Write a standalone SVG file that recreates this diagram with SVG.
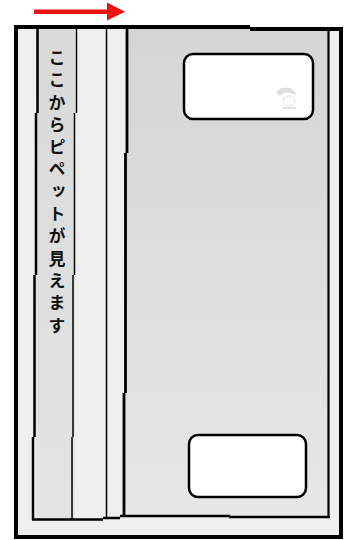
<svg xmlns="http://www.w3.org/2000/svg" width="352" height="540" viewBox="0 0 352 540">
  <defs>
    <linearGradient id="panelGrad" x1="0" y1="0" x2="0" y2="1">
      <stop offset="0" stop-color="#d5d5d5"/>
      <stop offset="1" stop-color="#e7e7e7"/>
    </linearGradient>
    <linearGradient id="stripGrad" x1="0" y1="0" x2="0" y2="1">
      <stop offset="0" stop-color="#d9d9d9"/>
      <stop offset="1" stop-color="#e4e4e4"/>
    </linearGradient>
    <style>
      .ln { stroke: #000; fill: none; stroke-linecap: butt; }
      .win { fill: #fff; stroke: #000; stroke-width: 2.5; }
      .jp { font-family: "Noto Sans CJK JP", "Noto Sans", sans-serif; font-size: 17px; font-weight: bold; fill: #111; writing-mode: vertical-rl; letter-spacing: 5.3px; }
    </style>
  </defs>
  <rect width="352" height="540" fill="#fff"/>

  <g id="arrow">
    <rect x="34" y="9.5" width="74" height="4.5" fill="#ee1111"/>
    <polygon points="107,2.5 125,11.7 107,20.5" fill="#ee1111"/>
  </g>

  <g id="frame">
    <rect x="16" y="27" width="325" height="510" fill="#efefef"/>
    <rect x="36" y="29" width="39" height="490" fill="url(#stripGrad)"/>
    <rect x="127" y="29" width="202" height="488" fill="url(#panelGrad)"/>
    <rect x="124" y="153" width="4" height="363" fill="url(#panelGrad)"/>
    <path class="ln" stroke-width="4" d="M16 25 V539 M14 27 H250 M250 29 H343 M341 29 V539 M14 537 H343"/>
    <path class="ln" stroke-width="2.5" d="M37.5 29 V113 M36 113 V275 M34.5 275 V437 M33 437 V520"/>
    <path class="ln" stroke-width="1.5" d="M76.5 29 V113 M74.5 113 V275 M73 275 V437 M72 437 V520"/>
    <path class="ln" stroke-width="2.5" d="M32 519.5 H103 M103 518 H120"/>
    <path class="ln" stroke-width="1.5" d="M106.5 29 V518"/>
    <path class="ln" stroke-width="2.8" d="M127 29 V153 M125.5 153 V393 M124 393 V517"/>
    <path class="ln" stroke-width="2.5" d="M120 516 H230 M229 517 H330"/>
    <path class="ln" stroke-width="2.2" d="M328.5 29 V518"/>
  </g>

  <g id="window-top">
    <rect class="win" x="184" y="54" width="129" height="65" rx="9"/>
    <path d="M276 92 Q283 85 292 89 L297 95 L290 93 Q284 91 280 96 Z" fill="#dddddd"/>
    <ellipse cx="289" cy="101" rx="6" ry="5" fill="none" stroke="#e2e2e2" stroke-width="1"/>
    <path d="M283 108 H296" stroke="#e2e2e2" stroke-width="2"/>
  </g>

  <g id="window-bottom">
    <rect class="win" x="189" y="435" width="117" height="62" rx="9"/>
  </g>

  <g id="label">
    <text class="jp" x="57" y="49">ここからピペットが見えます</text>
  </g>
</svg>
